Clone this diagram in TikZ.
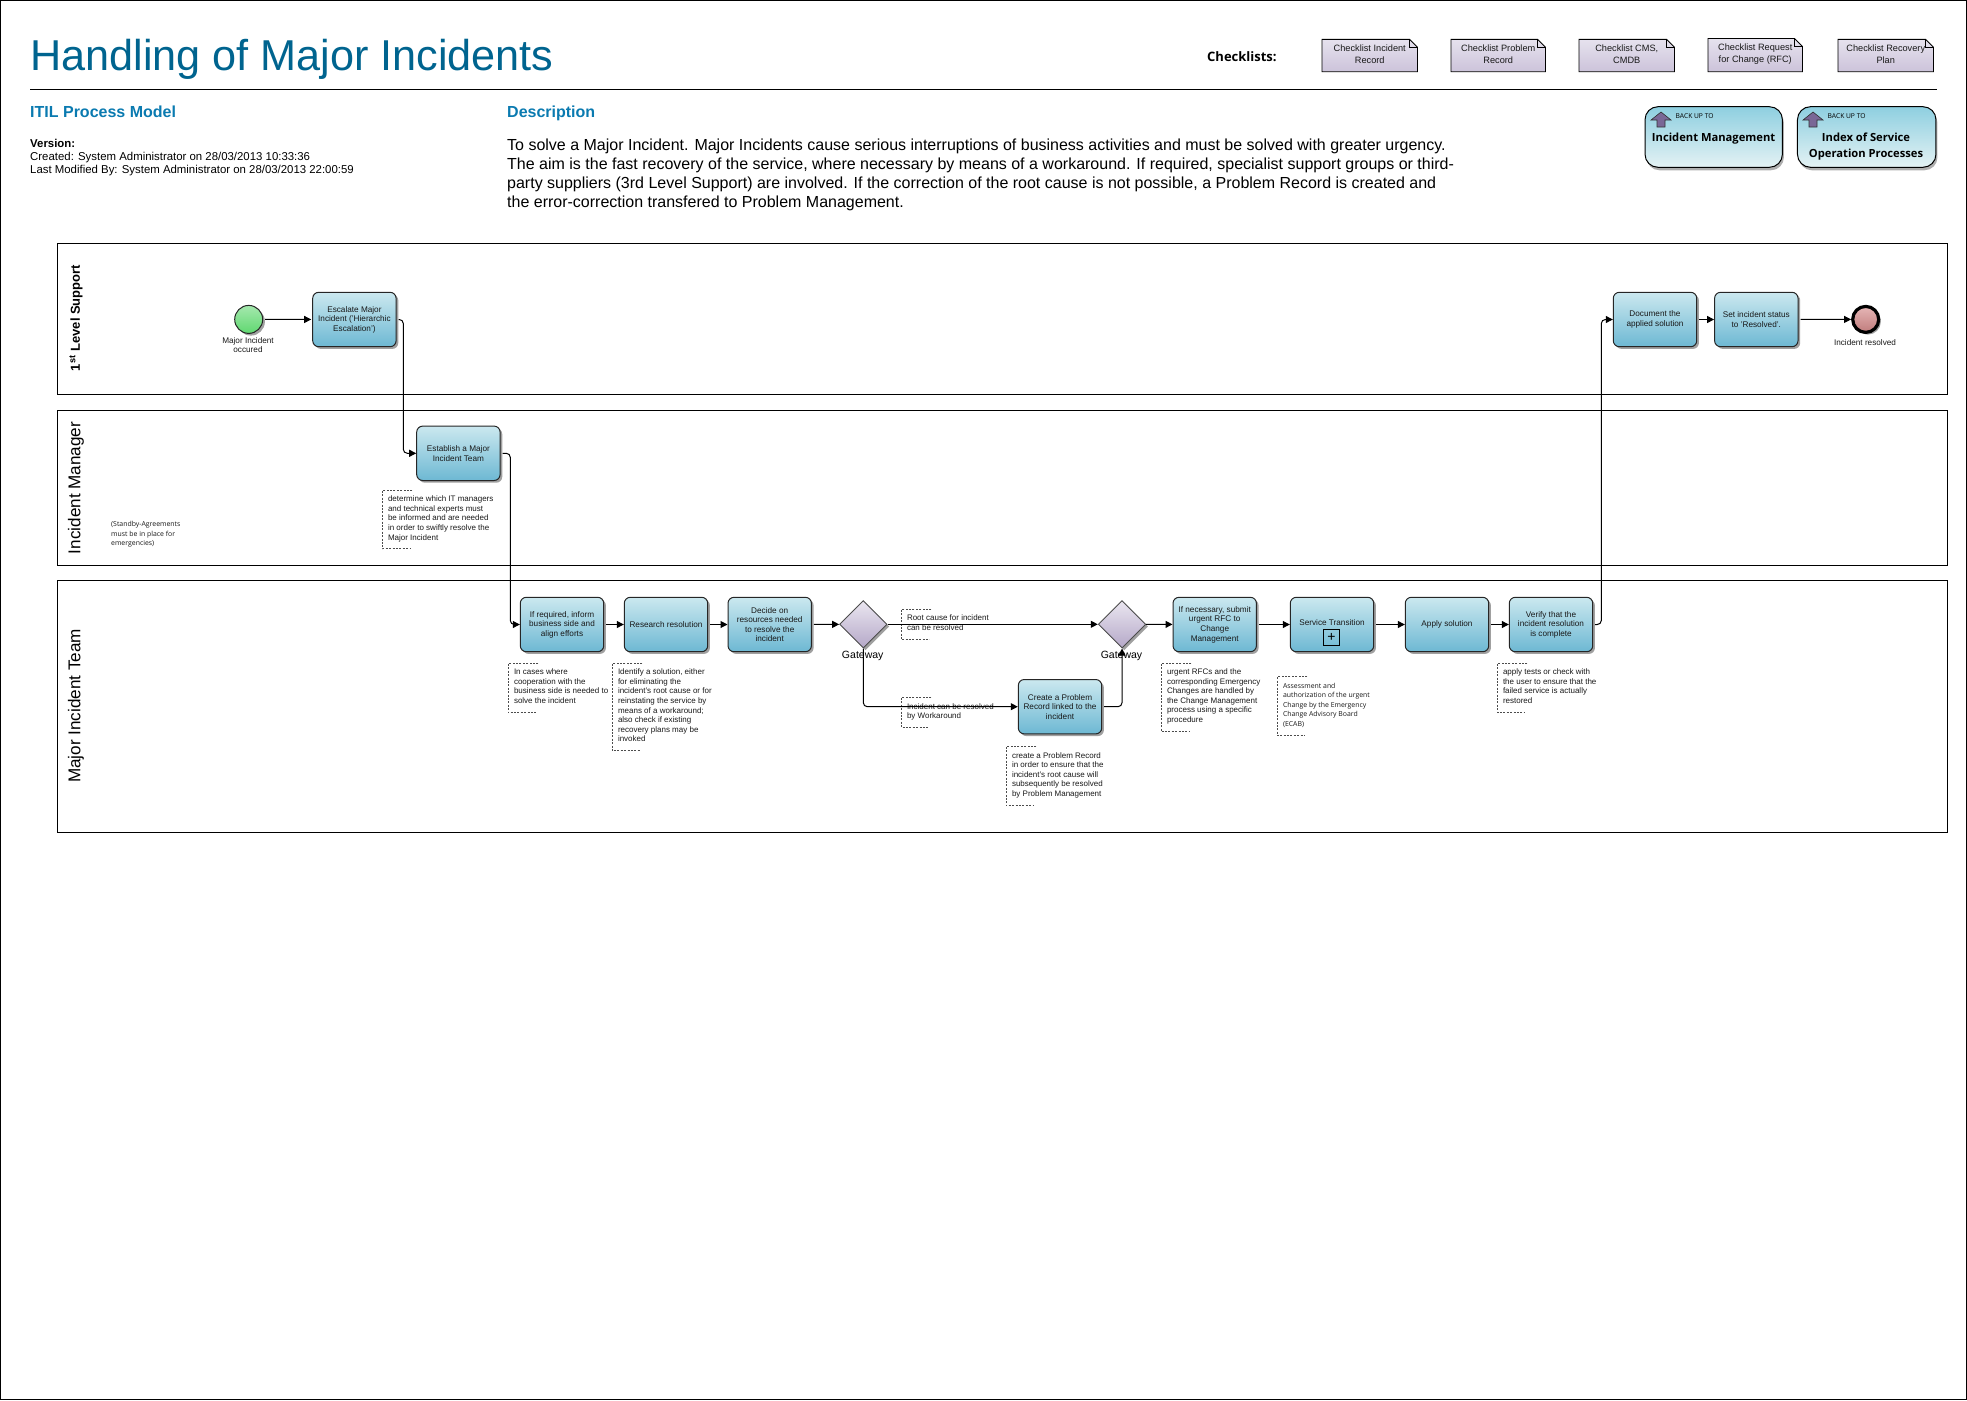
\documentclass[tikz,border=0pt]{standalone}
\usepackage{fontspec}
\setmainfont{Liberation Sans}
\newfontfamily\opensans{Open Sans}
\usetikzlibrary{arrows.meta,shapes.geometric,shadows}
\definecolor{titleblue}{HTML}{00648F}
\definecolor{headblue}{HTML}{0A7AB0}
\definecolor{tasktop}{HTML}{CBE8EF}
\definecolor{taskbot}{HTML}{6DB8D3}
\definecolor{gatetop}{HTML}{EAE6F0}
\definecolor{gatebot}{HTML}{B5A8C8}
\definecolor{doctop}{HTML}{E6E2EE}
\definecolor{docbot}{HTML}{CCC3DA}
\definecolor{backtop}{HTML}{8ECFE0}
\definecolor{backbot}{HTML}{E4F2F4}
\definecolor{arrowpurple}{HTML}{7A6796}
\definecolor{starttop}{HTML}{A5E8AE}
\definecolor{startbot}{HTML}{5FD870}
\definecolor{stoptop}{HTML}{E6B6B6}
\definecolor{stopbot}{HTML}{C07C7C}
\tikzset{
  shadowed/.style={drop shadow={shadow xshift=2.2pt,shadow yshift=-2.2pt,fill=black!50,opacity=.75}},
  taskbox/.style={shadowed,draw=black!85,line width=1pt,rounded corners=6pt,top color=tasktop,bottom color=taskbot,
    minimum width=83.4pt,minimum height=54.4pt,inner sep=0pt,align=center,text=black!90,font=\fontsize{8.2}{9.6}\selectfont},
  gatebox/.style={shadowed,diamond,aspect=1,draw=black!70,line width=.9pt,top color=gatetop,bottom color=gatebot,
    minimum width=47.5pt,minimum height=47.5pt,inner sep=0pt},
  lane/.style={draw=black,line width=1pt,fill=none},
  lanelabel/.style={rotate=90,inner sep=0pt,font=\fontsize{17.1}{19}\selectfont},
  conn/.style={draw=black,line width=1pt,rounded corners=4pt,-{Triangle[length=7pt,width=7pt]}},
  notebr/.style={draw=black!70,line width=.55pt,dash pattern=on 2pt off 1.4pt},
  notetxt/.style={anchor=north west,inner sep=0pt,align=left,text=black!90,font=\fontsize{8.0}{9.6}\selectfont},
  smalltxt/.style={anchor=north west,inner sep=0pt,align=left,text=black!90,font=\opensans\fontsize{6.9}{9.6}\selectfont},
  evlabel/.style={inner sep=0pt,align=center,text=black!90,font=\fontsize{8.2}{9.6}\selectfont},
  gatelabel/.style={inner sep=0pt,font=\fontsize{10.5}{12}\selectfont},
  doc/.style={draw=black,line width=.9pt,top color=doctop,bottom color=docbot},
  doctxt/.style={inner sep=0pt,align=center,text=black!90,font=\fontsize{9.2}{12.4}\selectfont},
  backbox/.style={drop shadow={shadow xshift=1.5pt,shadow yshift=-3pt,fill=black!45,opacity=.7},draw=black,line width=1pt,rounded corners=13pt,top color=backtop,bottom color=backbot,inner sep=0pt},
  backtxt/.style={inner sep=0pt,align=center,font=\opensans\bfseries\fontsize{11.2}{16}\selectfont},
  backup/.style={inner sep=0pt,anchor=west,font=\opensans\fontsize{6.7}{8}\selectfont},
  hdr/.style={inner sep=0pt,anchor=west},
  hdrb/.style={inner sep=0pt,anchor=base west,text=headblue,font=\bfseries\fontsize{16}{18}\selectfont},
  iconarrow/.style={fill=arrowpurple,draw=black!80,line width=.6pt},
}
\newcommand{\bpmnnote}[7][notetxt]{%
  \draw[notebr] ({#3+30},#4) -- (#3,#4) -- (#3,#5) -- ({#3+28},#5);
  \node[#1] (#2) at ({#3+5.5},{#6-4.5}) {\strut #7};}
\newcommand{\checkdoc}[6]{%
  \path[doc] (#2,#3) -- ({#4-8},#3) -- (#4,{#3+8}) -- (#4,#5) -- (#2,#5) -- cycle;
  \draw[line width=.7pt] ({#4-8},#3) -- ({#4-8},{#3+8}) -- (#4,{#3+8});
  \node[doctxt] (#1) at ({(#2+#4)/2},{(#3+#5)/2-1}) {#6};}
\newcommand{\uparrowicon}[2]{%
  \path[iconarrow] (#1,#2) -- ({#1+10},{#2-8}) -- ({#1+20},#2) -- ({#1+14},#2) -- ({#1+14},{#2+7}) -- ({#1+6},{#2+7}) -- ({#1+6},#2) -- cycle;}
\begin{document}
\begin{tikzpicture}[x=1pt,y=-1pt]
\useasboundingbox (0,0) rectangle (1967,1400);
\draw[line width=1pt] (.5,.5) rectangle (1966.5,1399.5);

% header
\node[hdr,text=titleblue,font=\fontsize{43.2}{50}\selectfont] (title) at (30,59) {Handling of Major Incidents};
\coordinate (ruleL) at (30,89);
\coordinate (ruleR) at (1937,89);
\draw[line width=.9pt] (ruleL) -- (ruleR);
\node[hdr,font=\opensans\bfseries\fontsize{13}{15}\selectfont] (chk) at (1207,56.5) {Checklists:};
\checkdoc{d1}{1322}{39.3}{1417.5}{71.7}{Checklist Incident\\Record}
\checkdoc{d2}{1451}{39.3}{1545.5}{71.7}{Checklist Problem\\Record}
\checkdoc{d3}{1579}{39.3}{1674.5}{71.7}{Checklist CMS,\\CMDB}
\checkdoc{d4}{1708}{38.5}{1802.5}{71.7}{Checklist Request\\for Change (RFC)}
\checkdoc{d5}{1838}{39.3}{1933.5}{71.7}{Checklist Recovery\\Plan}

\node[hdrb] (itil) at (30,117.5) {ITIL Process Model};
\node[hdrb] (desc) at (507,117.5) {Description};
\node[hdr,font=\bfseries\fontsize{11.4}{13}\selectfont] (ver) at (30,143.5) {Version:};
\node[hdr,font=\fontsize{11.4}{13}\selectfont] (crt) at (30,157.5) {Created: System Administrator on 28/03/2013 10:33:36};
\node[hdr,font=\fontsize{11.4}{13}\selectfont] (mod) at (30,170.5) {Last Modified By: System Administrator on 28/03/2013 22:00:59};
\node[anchor=north west,inner sep=0pt,align=left,font=\fontsize{16}{18.9}\selectfont] (body) at (507,137.5) {\strut To solve a Major Incident. Major Incidents cause serious interruptions of business activities and must be solved with greater urgency.\\
The aim is the fast recovery of the service, where necessary by means of a workaround. If required, specialist support groups or third-\\
party suppliers (3rd Level Support) are involved. If the correction of the root cause is not possible, a Problem Record is created and\\
the error-correction transfered to Problem Management.};

\node[backbox,minimum width=137.4pt,minimum height=60.6pt] (b1) at (1713.7,137) {};
\node[backbox,minimum width=138.5pt,minimum height=60.6pt] (b2) at (1866.7,137) {};
\uparrowicon{1651}{120}
\uparrowicon{1803}{120}
\node[backup] (b1a) at (1675.5,116) {BACK UP TO};
\node[backup] (b2a) at (1827.5,116) {BACK UP TO};
\node[backtxt] (b1t) at (1713.6,139) {Incident Management};
\node[backtxt] (b2t) at (1866,147) {Index of Service\\Operation Processes};

% lanes
\draw[lane] (57,243.5) rectangle (1947.7,394);
\draw[lane] (57,410) rectangle (1947.7,565.7);
\draw[lane] (57,580) rectangle (1947.7,832.7);
\node[lanelabel,font=\bfseries\fontsize{13}{15}\selectfont] (l1) at (76,318) {1\textsuperscript{st} Level Support};
\node[lanelabel] (l2) at (76,488) {Incident Manager};
\node[lanelabel] (l3) at (76,706) {Major Incident Team};

% events
\node[shadowed,circle,draw=black!85,line width=1pt,top color=starttop,bottom color=startbot,minimum size=28pt,inner sep=0pt] (start) at (248.7,319.4) {};
\node[evlabel] (startl) at (248,345) {Major Incident\\occured};
\node[shadowed,circle,draw=black,line width=3.2pt,top color=stoptop,bottom color=stopbot,minimum size=26pt,inner sep=0pt] (stop) at (1865.7,319.4) {};
\node[evlabel] (stopl) at (1865,342.3) {Incident resolved};

% tasks
\node[taskbox] (esc) at (354.4,319.5) {Escalate Major\\Incident ('Hierarchic\\Escalation')};
\node[taskbox] (est) at (458.4,453.3) {Establish a Major\\Incident Team};
\node[taskbox] (inf) at (562,624.5) {If required, inform\\business side and\\align efforts};
\node[taskbox] (res) at (666,624.5) {Research resolution};
\node[taskbox] (dec) at (769.7,624.5) {Decide on\\resources needed\\to resolve the\\incident};
\node[gatebox] (g1) at (863.3,624.3) {};
\node[gatelabel] (g1l) at (862.7,655.7) {Gateway};
\node[gatebox] (g2) at (1122,624.3) {};
\node[gatelabel] (g2l) at (1121.5,655.7) {Gateway};
\node[taskbox] (sub) at (1214.7,624.5) {If necessary, submit\\urgent RFC to\\Change\\Management};
\node[taskbox] (svc) at (1332,624.5) {};
\node[inner sep=0pt,text=black!90,font=\fontsize{8.2}{9.6}\selectfont] (svct) at (1332,623) {Service Transition};
\node[draw=black,line width=1pt,minimum size=16.4pt,inner sep=0pt,font=\fontsize{14}{14}\selectfont] (plus) at (1331.5,637.7) {+};
\node[taskbox] (app) at (1447,624.5) {Apply solution};
\node[taskbox] (ver2) at (1551,624.5) {Verify that the\\incident resolution\\is complete};
\node[taskbox] (crp) at (1060,706.7) {Create a Problem\\Record linked to the\\incident};
\node[taskbox] (doc1) at (1655,319.5) {Document the\\applied solution};
\node[taskbox] (set) at (1756.3,319.5) {Set incident status\\to 'Resolved'.};

% notes
\node[smalltxt] (stby) at (111,519.8) {\strut (Standby-Agreements\\must be in place for\\emergencies)};
\bpmnnote{n1}{382.3}{490.3}{548.7}{499.3}{determine which IT managers\\and technical experts  must\\be informed and are needed\\in order to swiftly resolve the\\Major Incident}
\bpmnnote{n2}{508.3}{663.3}{712.7}{672.3}{In cases where\\cooperation with the\\business side is needed to\\solve the incident}
\bpmnnote{n3}{612.3}{663.3}{750.7}{672.3}{Identify a solution, either\\for eliminating the\\incident's root cause or for\\reinstating the service by\\means of a workaround;\\also check if existing\\recovery plans may be\\invoked}
\bpmnnote{n4}{901.3}{609.3}{639.7}{618}{Root cause for incident\\can be resolved}
\bpmnnote{n5}{901.3}{697.3}{727.3}{706.7}{Incident can be resolved\\by Workaround}
\bpmnnote{n6}{1006.3}{746.3}{805.7}{755.7}{create a Problem Record\\in order to ensure that the\\incident's root cause will\\subsequently be resolved\\by Problem Management}
\bpmnnote{n7}{1161.3}{663.3}{731.7}{672}{urgent RFCs and the\\corresponding Emergency\\Changes are handled by\\the Change Management\\process using a specific\\procedure}
\bpmnnote[smalltxt]{n8}{1277.3}{676.7}{735.7}{685.7}{Assessment and\\authorization of the urgent\\Change by the Emergency\\Change Advisory Board\\(ECAB)}
\bpmnnote{n9}{1497.3}{663.3}{712.3}{672.3}{apply tests or check with\\the user to ensure that the\\failed service is actually\\restored}

% connectors
\coordinate (v1) at (403.3,380);
\coordinate (v2) at (510.3,530);
\coordinate (v3) at (1601.3,470);
\draw[conn,shorten <=2pt,shorten >=1pt] (start) -- (esc);
\draw[conn,shorten <=2pt] (esc.east) -| (v1) |- (est.west);
\draw[conn,shorten <=2pt] (est.east) -| (v2) |- (inf.west);
\draw[conn,shorten <=2pt] (inf) -- (res);
\draw[conn,shorten <=2pt] (res) -- (dec);
\draw[conn,shorten <=2pt] (dec) -- (g1);
\draw[conn] (g1) -- (g2);
\draw[conn] (g1.south) |- (crp.west);
\draw[conn,shorten <=2pt] (crp.east) -| (g2.south);
\draw[conn] (g2) -- (sub);
\draw[conn,shorten <=2pt] (sub) -- (svc);
\draw[conn,shorten <=2pt] (svc) -- (app);
\draw[conn,shorten <=2pt] (app) -- (ver2);
\draw[conn,shorten <=2pt] (ver2.east) -| (v3) |- (doc1.west);
\draw[conn,shorten <=2pt] (doc1) -- (set);
\draw[conn,shorten <=2pt] (set) -- (stop);
\end{tikzpicture}
\end{document}
